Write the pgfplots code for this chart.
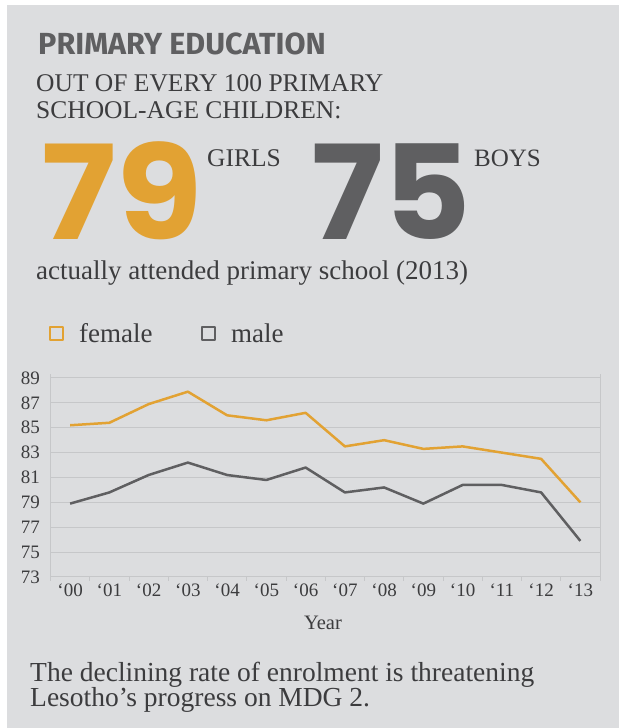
\documentclass[border=0pt]{standalone}
\usepackage{pgfplots}
\pgfplotsset{compat=1.18}
\usepackage{fontspec}
\setmainfont{Liberation Serif}
\newfontfamily\popp{Poppins}
\newfontfamily\fira{Fira Sans}
\definecolor{bg}{HTML}{DCDDDF}
\definecolor{orng}{HTML}{E2A233}
\definecolor{dgray}{HTML}{5F5F61}
\definecolor{txt}{HTML}{3C3C3E}
\definecolor{gridc}{HTML}{C6C7C9}
\begin{document}
\begin{tikzpicture}[x=1pt,y=1pt]
\fill[white] (0,0) rectangle (619,728);
\fill[bg] (7,0) rectangle (619,723);
% header texts
\node[anchor=base west,inner sep=0,text=dgray] at (38,673) {\fira\bfseries\fontsize{30.5}{30.5}\selectfont PRIMARY EDUCATION};
\node[anchor=base west,inner sep=0,text=txt] at (36,636) {\fontsize{25.5}{25.5}\selectfont OUT OF EVERY 100 PRIMARY};
\node[anchor=base west,inner sep=0,text=txt] at (36,609) {\fontsize{25.5}{25.5}\selectfont SCHOOL-AGE CHILDREN:};
\node[anchor=base west,inner sep=0,text=orng] at (41,488) {\scalebox{1.07}[1]{\popp\bfseries\fontsize{131}{131}\selectfont 79}};
\node[anchor=base west,inner sep=0,text=dgray] at (311,488) {\scalebox{1.03}[1]{\popp\bfseries\fontsize{131}{131}\selectfont 75}};
\node[anchor=base west,inner sep=0,text=txt] at (207,561) {\fontsize{25.5}{25.5}\selectfont GIRLS};
\node[anchor=base west,inner sep=0,text=txt] at (474,561) {\fontsize{25}{25}\selectfont BOYS};
\node[anchor=base west,inner sep=0,text=txt] at (36,448) {\fontsize{27}{27}\selectfont actually attended primary school (2013)};
\node[anchor=base,inner sep=0,text=txt] at (323,98) {\fontsize{20.5}{20.5}\selectfont Year};
\node[anchor=base west,inner sep=0,text=txt] at (30,46) {\fontsize{27.5}{27.5}\selectfont The declining rate of enrolment is threatening};
\node[anchor=base west,inner sep=0,text=txt] at (30,21) {\fontsize{27.5}{27.5}\selectfont Lesotho’s progress on MDG 2.};
\begin{axis}[
  at={(50.5pt,151pt)}, anchor=south west,
  scale only axis, width=549.5pt, height=199pt,
  xmin=-0.5, xmax=13.5, ymin=73, ymax=89,
  ytick={73,75,...,89},
  xtick={0,...,13},
  xticklabels={‘00,‘01,‘02,‘03,‘04,‘05,‘06,‘07,‘08,‘09,‘10,‘11,‘12,‘13},
  minor xtick={-0.5,0.5,...,13.5},
  xtick pos=lower, ytick pos=left,
  major tick length=0pt, minor tick length=4pt,
  tick align=outside,
  minor tick style={draw=gridc, line width=1pt},
  ymajorgrids, grid style={draw=gridc, line width=1pt},
  axis line style={draw=gridc, line width=1pt},
  every axis plot/.append style={line width=2.5pt, line join=round},
  /pgf/number format/assume math mode=true,
  tick label style={font=\fontsize{19}{19}\selectfont, text=txt},
  yticklabel style={xshift=-7pt},
  xticklabel style={yshift=-3pt},
  clip=false,
  legend columns=2,
  legend style={at={(axis description cs:0,1)}, anchor=south west, xshift=-5pt, yshift=30pt,
    draw=none, fill=none, font=\fontsize{27}{27}\selectfont, text=txt,
    /tikz/every odd column/.append style={column sep=13pt},
    /tikz/every even column/.append style={column sep=46pt}},
  legend image code/.code={\draw[#1, line width=2.5pt, fill=none] (0pt,-6.5pt) rectangle (13pt,6.5pt);},
]
\draw[gridc, line width=1pt] (axis cs:-0.5,73) -- (axis cs:-0.5,89.3);
\draw[gridc, line width=1pt] (axis cs:13.5,73) -- (axis cs:13.5,89.3);
\addplot[orng] coordinates {(0,85.2)(1,85.4)(2,86.9)(3,87.9)(4,86.0)(5,85.6)(6,86.2)(7,83.5)(8,84.0)(9,83.3)(10,83.5)(11,83.0)(12,82.5)(13,79.0)};
\addlegendentry{female}
\addplot[dgray] coordinates {(0,78.9)(1,79.8)(2,81.2)(3,82.2)(4,81.2)(5,80.8)(6,81.8)(7,79.8)(8,80.2)(9,78.9)(10,80.4)(11,80.4)(12,79.8)(13,75.9)};
\addlegendentry{male}
\end{axis}
\end{tikzpicture}
\end{document}
